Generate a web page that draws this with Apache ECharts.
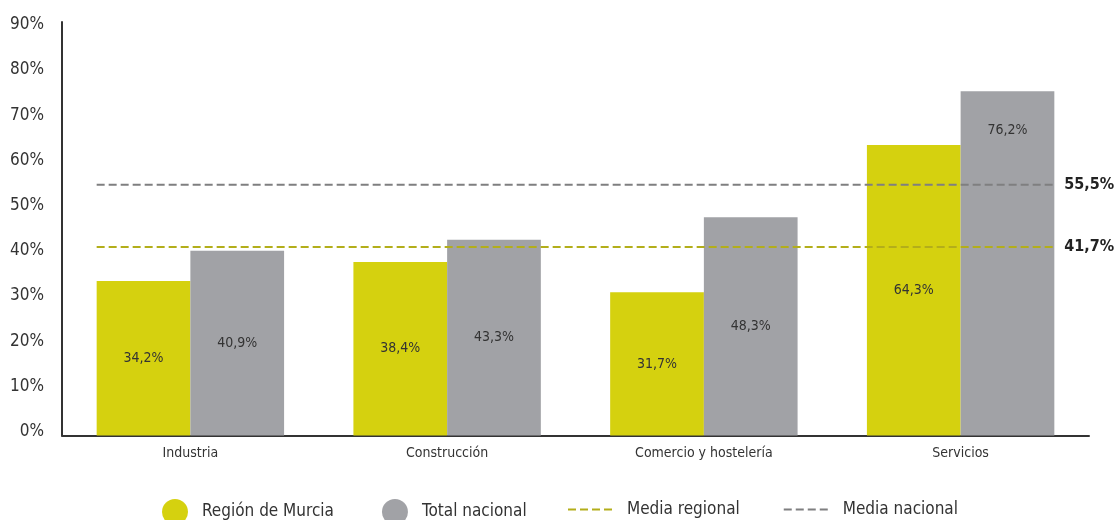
<!DOCTYPE html>
<html>
<head>
<meta charset="utf-8">
<script src="https://cdn.jsdelivr.net/npm/echarts@6/dist/echarts.min.js"></script>
<style>
html,body{margin:0;padding:0;background:#fff;}
#c{width:1115px;height:520px;}
</style>
</head>
<body>
<div id="c"></div>
<script>
var categories = ['Industria', 'Construcción', 'Comercio y hostelería', 'Servicios'];
var regionMurcia = [34.2, 38.4, 31.7, 64.3];
var totalNacional = [40.9, 43.3, 48.3, 76.2];
var mediaRegional = 41.7;
var mediaNacional = 55.5;
var yTicks = [0, 10, 20, 30, 40, 50, 60, 70, 80, 90];

var FONT = '"Liberation Sans Narrow", "DejaVu Sans Condensed", "Liberation Sans", sans-serif';
var YELLOW = '#d5d10f', GRAY = '#a1a2a6', LREG = '#b3ae1a', LNAC = '#7f7f80';
function pct(v){ return v.toFixed(1).replace('.', ',') + '%'; }

var lineSpan = [-0.365, 3.365];

var chart = echarts.init(document.getElementById('c'), null, {renderer: 'canvas'});
chart.setOption({
  animation: false,
  textStyle: {fontFamily: FONT},
  grid: {left: 62, right: 26, top: 22, bottom: 84.5},
  xAxis: [{
    type: 'category', data: categories,
    axisLine: {lineStyle: {color: '#333', width: 2}},
    axisTick: {show: false},
    axisLabel: {color: '#333', fontSize: 14, margin: 11, fontFamily: FONT}
  }, {
    type: 'value', min: -0.5, max: 3.5, show: false
  }],
  yAxis: {
    type: 'value', min: 0, max: 91.5, interval: 10,
    splitLine: {show: false},
    axisTick: {show: false},
    axisLine: {show: true, onZero: false, lineStyle: {color: '#333', width: 2}},
    axisLabel: {
      color: '#333', fontSize: 17, margin: 18, fontFamily: FONT,
      verticalAlign: 'bottom', lineHeight: 8,
      formatter: function(v){ return yTicks.indexOf(v) >= 0 ? v + '%' : ''; }
    }
  },
  legend: [{
    data: ['Región de Murcia', 'Total nacional'],
    left: 162, top: 499, padding: 0, itemGap: 48,
    icon: 'circle', itemWidth: 26, itemHeight: 26,
    textStyle: {color: '#333', fontSize: 17, fontFamily: FONT, padding: [0, 0, 0, 9]}
  }, {
    data: [{name: 'Media regional', itemStyle: {opacity: 0}}, {name: 'Media nacional', itemStyle: {opacity: 0}}],
    left: 567, top: 499, padding: 0, itemGap: 43,
    itemWidth: 48, itemHeight: 26,
    itemStyle: {opacity: 0},
    textStyle: {color: '#333', fontSize: 17, fontFamily: FONT, padding: [0, 0, 0, 6]}
  }],
  series: [{
    name: 'Región de Murcia', type: 'bar', data: regionMurcia,
    barGap: '0%', barCategoryGap: '27%',
    itemStyle: {color: YELLOW},
    label: {show: true, position: 'inside', color: '#333', fontSize: 14, fontFamily: FONT, formatter: function(p){ return pct(p.value); }}
  }, {
    name: 'Total nacional', type: 'bar',
    data: totalNacional.map(function(v, i){
      return i === 3 ? {value: v, label: {position: 'insideTop', distance: 32}} : v;
    }),
    itemStyle: {color: GRAY},
    label: {show: true, position: 'inside', color: '#333', fontSize: 14, fontFamily: FONT, formatter: function(p){ return pct(p.value); }}
  }, {
    name: 'Media regional', type: 'line', xAxisIndex: 1, symbol: 'none',
    data: [[lineSpan[0], mediaRegional], [lineSpan[1], mediaRegional]],
    lineStyle: {color: LREG, width: 2, type: [8, 4]},
    itemStyle: {color: LREG},
    endLabel: {show: true, formatter: pct(mediaRegional), color: '#222', fontSize: 16, fontWeight: 'bold', fontFamily: FONT, distance: 10},
    z: 5
  }, {
    name: 'Media nacional', type: 'line', xAxisIndex: 1, symbol: 'none',
    data: [[lineSpan[0], mediaNacional], [lineSpan[1], mediaNacional]],
    lineStyle: {color: LNAC, width: 2, type: [8, 4]},
    itemStyle: {color: LNAC},
    endLabel: {show: true, formatter: pct(mediaNacional), color: '#222', fontSize: 16, fontWeight: 'bold', fontFamily: FONT, distance: 10},
    z: 5
  }]
});
</script>
</body>
</html>
